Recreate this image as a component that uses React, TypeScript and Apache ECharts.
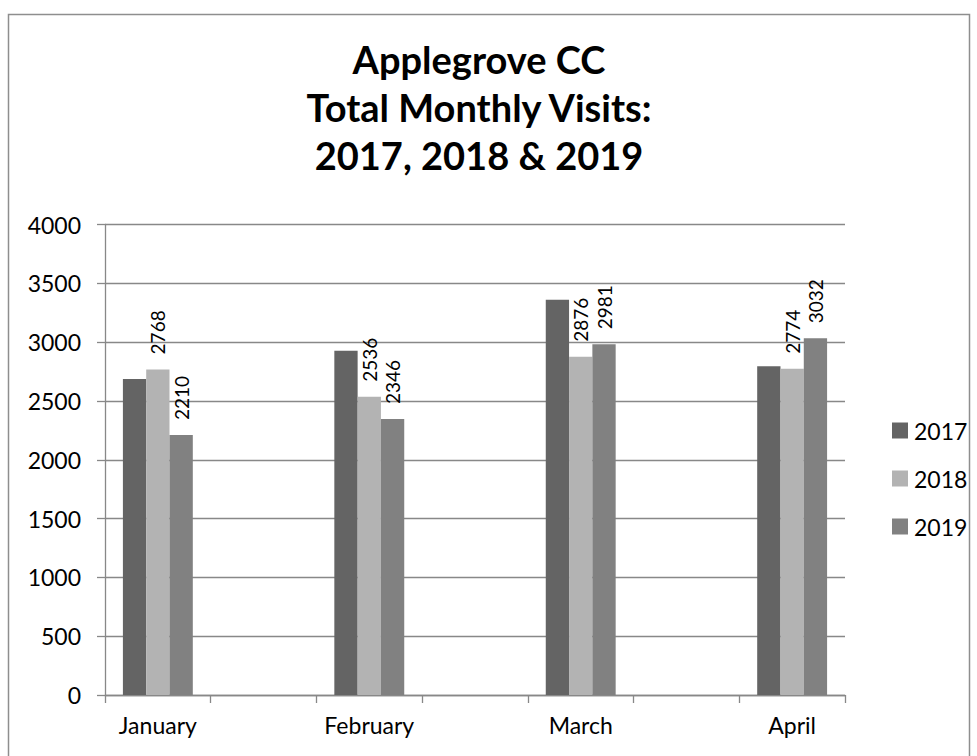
import React, { useEffect, useRef } from "react";
import * as echarts from "echarts";

const titleLines = ["Applegrove CC", "Total Monthly Visits:", "2017, 2018 & 2019"];
const categories = ["January", "", "February", "", "March", "", "April"];
const seriesNames = ["2017", "2018", "2019"];
const values2017 = [2686, null, 2927, null, 3361, null, 2794];
const values2018 = [2768, null, 2536, null, 2876, null, 2774];
const values2019 = [2210, null, 2346, null, 2981, null, 3032];
const yTicks = { min: 0, max: 4000, interval: 500 };
const colors = ["#646464", "#b3b3b3", "#818181"];
const showLabels = [false, true, true];

const FONT = "Lato, 'Noto Sans', sans-serif";

export default function App() {
  const ref = useRef<HTMLDivElement>(null);
  useEffect(() => {
    if (!ref.current) return;
    const chart = echarts.init(ref.current, null, { renderer: "svg" });
    const data = [values2017, values2018, values2019];
    chart.setOption({
      animation: false,
      backgroundColor: "#ffffff",
      textStyle: { fontFamily: FONT },
      grid: { left: 105, right: 977 - 845, top: 224.5, bottom: 756 - 695, containLabel: false },
      legend: {
        orient: "vertical",
        left: 887,
        top: 414,
        itemWidth: 16,
        itemHeight: 16,
        itemGap: 25,
        icon: "rect",
        data: seriesNames,
        textStyle: { fontSize: 23, color: "#000", fontFamily: FONT, padding: [0, 0, 0, 1] },
      },
      xAxis: {
        type: "category",
        data: categories,
        axisLine: { lineStyle: { color: "#888888", width: 1.3 } },
        axisTick: { show: true, interval: 0, length: 8, lineStyle: { color: "#888888", width: 1.3 } },
        axisLabel: { interval: 0, fontSize: 23, color: "#000", margin: 18, fontFamily: FONT },
      },
      yAxis: {
        type: "value",
        min: yTicks.min,
        max: yTicks.max,
        interval: yTicks.interval,
        axisLine: { show: true, lineStyle: { color: "#888888", width: 1.3 } },
        axisTick: { show: true, length: 8, lineStyle: { color: "#888888", width: 1.3 } },
        axisLabel: {
          fontSize: 23,
          color: "#000",
          margin: 24,
          fontFamily: FONT,
          formatter: (v: number) => String(v),
        },
        splitLine: { lineStyle: { color: "#888888", width: 1.3 } },
      },
      series: seriesNames.map((name, i) => ({
        name,
        type: "bar",
        data: data[i],
        barWidth: 23.3,
        barGap: "0%",
        itemStyle: { color: colors[i] },
        label: {
          show: showLabels[i],
          position: "top",
          rotate: 90,
          align: "left",
          verticalAlign: "middle",
          distance: 15,
          fontSize: 19,
          color: "#000",
          fontFamily: FONT,
        },
      })),
      graphic: [
        {
          type: "rect",
          shape: { x: 8.5, y: 14.5, width: 961, height: 900 },
          style: { fill: "none", stroke: "#8e8e8e", lineWidth: 1.5 },
          silent: true,
        },
        {
          type: "text",
          x: 479,
          y: 107,
          style: {
            text: titleLines.join("\n"),
            textAlign: "center",
            textVerticalAlign: "middle",
            fontSize: 38,
            fontWeight: "bold",
            lineHeight: 48.4,
            fontFamily: FONT,
            fill: "#000",
          },
        },
      ],
    });
    return () => chart.dispose();
  }, []);
  return (
    <div
      ref={ref}
      style={{ position: "fixed", left: 0, top: 0, width: 977, height: 756, background: "#fff" }}
    />
  );
}
